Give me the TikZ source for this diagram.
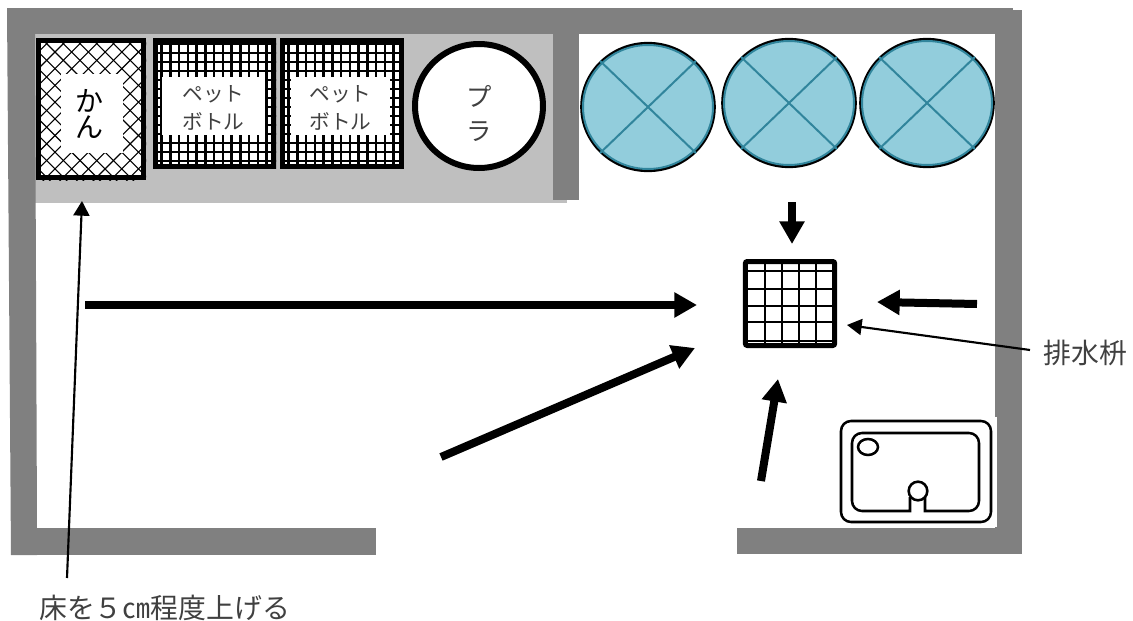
\documentclass[tikz,border=0pt]{standalone}
\usepackage{fontspec}
\setmainfont{Noto Sans CJK JP}
\usetikzlibrary{arrows.meta,shapes.geometric}
\definecolor{wall}{HTML}{808080}
\definecolor{shelf}{HTML}{BFBFBF}
\definecolor{tank}{HTML}{92CDDC}
\definecolor{tankline}{HTML}{31859C}
\definecolor{softtext}{HTML}{404040}
\tikzset{
  wallpart/.style={fill=wall,draw=none},
  binframe/.style={draw=black,line width=3.75pt,fill=none},
  gridline/.style={draw=black,line width=1.9pt},
  drainline/.style={draw=black,line width=1.5pt},
  latticeline/.style={draw=black,line width=0.8pt},
  bigarrow/.style={draw=black,line width=6pt,-{Triangle[length=17pt,width=18pt]}},
  thinarrow/.style={draw=black,line width=1.6pt,-{Triangle[length=11pt,width=12pt]}},
  tankbody/.style={ellipse,draw=black,fill=tank,line width=2.2pt},
  crossline/.style={draw=tankline,line width=1.5pt},
  sinkline/.style={draw=black,line width=1.9pt},
  binlabel/.style={text=softtext,align=center,inner sep=0pt,font=\fontsize{15.5}{21}\selectfont},
  notelabel/.style={text=softtext,inner sep=0pt,anchor=west,font=\fontsize{20.9}{24}\selectfont}
}
\begin{document}
\begin{tikzpicture}[x=0.75pt,y=-0.75pt]
\useasboundingbox (0,0) rectangle (1133,621);
% shelf floor
\fill[shelf] (35,34) rectangle (567,203);
% walls
\fill[wallpart] (7,8) rectangle (1013,34);
\fill[wallpart] (7,8) -- (11,555) -- (37,555) -- (37,528) -- (35,34) -- (35,8) -- cycle;
\fill[wallpart] (18,528) rectangle (376,555);
\fill[wallpart] (553,34) rectangle (579,200);
\fill[wallpart] (995,10) rectangle (1022,554);
\fill[wallpart] (737,528) rectangle (1022,554);
% can bin
\begin{scope}
  \clip (36,38) rectangle (146,180);
  \fill[white] (36,38) rectangle (146,180);
  \foreach \k in {-12,...,12} {
    \draw[latticeline] (41+\k*16.7,38) -- ++(160,160);
    \draw[latticeline] (69+\k*16.7,38) -- ++(-160,160);
  }
\end{scope}
\fill[white] (61,74) rectangle (123,153);
\draw[binframe] (38.5,40.5) rectangle (143.5,177.5);
\node[inner sep=0pt,align=center,font=\fontsize{21}{20}\selectfont] (canlabel) at (89,114) {か\\ん};
% pet bins
\foreach \xa/\xb/\ia/\ib/\nm in {153/276/162/265/peta,280/404/291/390/petb} {
  \begin{scope}
    \clip (\xa,38) rectangle (\xb,169);
    \fill[white] (\xa,38) rectangle (\xb,169);
    \foreach \k in {0,...,13} {
      \draw[gridline] (\xa+8.7+\k*8.75,38) -- ++(0,131);
      \draw[gridline] (\xa,44+\k*9.0) -- ++(124,0);
    }
  \end{scope}
  \fill[white] (\ia,77) rectangle (\ib,135);
  \draw[binframe] (\xa+2.5,40.5) rectangle (\xb-2.5,166.5);
  \node[binlabel] (\nm) at ({(\ia+\ib)/2},108) {ペット\\ボトル};
}
% plastic bin
\node[ellipse,draw=black,fill=white,line width=4.5pt,minimum width=96pt,minimum height=93pt,inner sep=0pt] (plabin) at (479,106) {};
\node[inner sep=0pt,align=center,text=softtext,font=\fontsize{19}{25.5}\selectfont] (pla) at (479,113) {プ\\ラ};
% tanks
\foreach \cx/\cy/\nm in {648/107/tanka,789/103/tankb,927/103/tankc} {
  \node[tankbody,minimum width=99.5pt,minimum height=95.5pt,inner sep=0pt] (\nm) at (\cx,\cy) {};
  \draw[crossline] (\nm.north west) -- (\nm.south east);
  \draw[crossline] (\nm.north east) -- (\nm.south west);
  \draw[crossline] (\cx,\cy) ellipse (65 and 62);
}
% drain
\node[draw=black,fill=white,line width=3.75pt,rounded corners=1.5pt,minimum width=67pt,minimum height=63pt,inner sep=0pt] (drain) at (790,303.5) {};
\foreach \vx in {765,782,799,816} \draw[drainline] (\vx,262) -- (\vx,345);
\foreach \hy in {271,289,306,322,341} \draw[drainline] (746,\hy) -- (834,\hy);
% sink
\fill[white] (838,417) rectangle (997,527);
\draw[sinkline,rounded corners=7.5pt] (841,421) rectangle (991,522);
\draw[sinkline] (910,497) -- (910,511) [rounded corners=7.5pt] -- (852,511) -- (852,433) -- (979,433) -- (979,511) [sharp corners] -- (925,511) -- (925,497);
\node[circle,draw=black,fill=white,line width=1.9pt,minimum size=14pt,inner sep=0pt] (faucet) at (918,491) {};
\node[ellipse,draw=black,fill=white,line width=1.9pt,minimum width=15pt,minimum height=12pt,inner sep=0pt] (soap) at (868,447) {};
% free arrow ends
\coordinate (aa) at (792,202); \coordinate (ab) at (792,244);
\coordinate (ba) at (85,305);  \coordinate (bb) at (697,305);
\coordinate (ca) at (977,304); \coordinate (cb) at (877,302);
\coordinate (da) at (441,457); \coordinate (db) at (695,348);
\coordinate (ea) at (761,481); \coordinate (eb) at (778,379);
\coordinate (fa) at (1030,350); \coordinate (fb) at (847,325);
\coordinate (ga) at (67,578);  \coordinate (gb) at (82,201);
\draw[bigarrow] (aa) -- (ab);
\draw[bigarrow] (ba) -- (bb);
\draw[bigarrow] (ca) -- (cb);
\draw[bigarrow] (da) -- (db);
\draw[bigarrow] (ea) -- (eb);
\draw[thinarrow] (fa) -- (fb);
\draw[thinarrow] (ga) -- (gb);
% labels
\node[notelabel] (drainnote) at (1043,353) {排水枡};
\node[notelabel] (floornote) at (39,608) {床を５㎝程度上げる};
\end{tikzpicture}
\end{document}
